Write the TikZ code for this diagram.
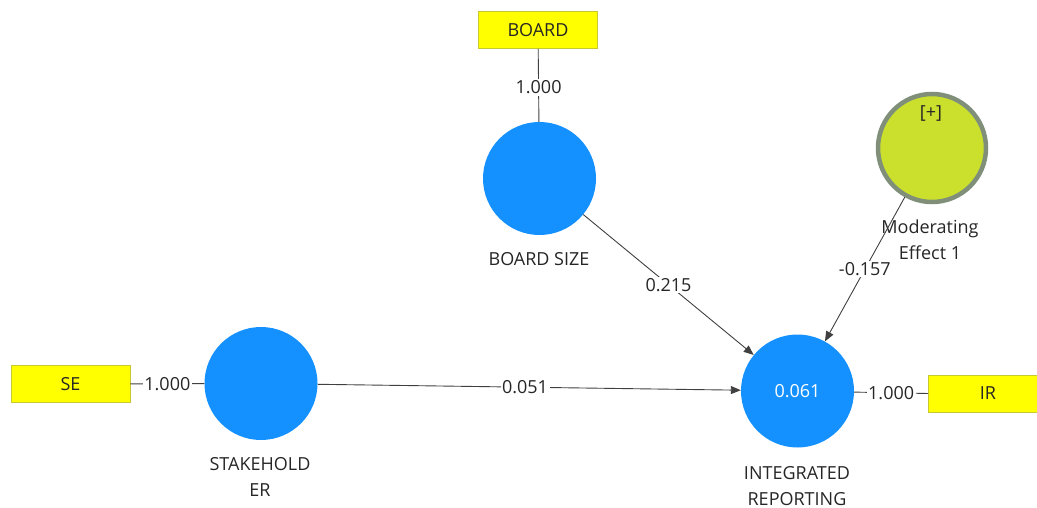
\documentclass[tikz,border=0pt]{standalone}
\usepackage{fontspec}
\setmainfont{Open Sans}
\usetikzlibrary{arrows.meta}
\definecolor{latent}{HTML}{1591FF}
\definecolor{indbox}{HTML}{FFFF00}
\definecolor{indline}{HTML}{C8C832}
\definecolor{modfill}{HTML}{CBE02C}
\definecolor{modring}{HTML}{7F8F7A}
\definecolor{edgecol}{HTML}{404040}
\definecolor{txt}{HTML}{262626}
\tikzset{
  every node/.style={font=\fontsize{18}{26}\selectfont, text=txt},
  latentvar/.style={circle, fill=latent, draw=none, minimum size=113pt, inner sep=0pt},
  modvar/.style={circle, fill=modfill, draw=modring, line width=4.5pt, minimum size=108pt, inner sep=0pt},
  indicator/.style={rectangle, fill=indbox, draw=indline, line width=0.8pt, minimum width=119pt, minimum height=37pt, inner sep=0pt},
  caption/.style={align=center, inner sep=0pt},
  loading/.style={draw=edgecol, line width=0.9pt},
  structpath/.style={draw=edgecol, line width=0.9pt, -{Triangle[length=10pt,width=8pt]}},
  coef/.style={fill=white, inner sep=1.5pt}
}
\begin{document}
\begin{tikzpicture}[x=1pt,y=-1pt]
\useasboundingbox (0,0) rectangle (1037,508);
\begin{scope}
\clip (0,0) rectangle (1037,508);
% indicators
\node[indicator] (board) at (538,30) {BOARD};
\node[indicator] (se) at (70.5,384) {SE};
\node[indicator] (ir) at (988,393.5) {IR};
% constructs
\node[latentvar] (bs) at (539.5,178.5) {};
\node[latentvar] (sh) at (261,383.5) {};
\node[latentvar] (ip) at (797.5,391) {\textcolor{white}{0.061}};
\node[modvar] (me) at (932,148) {};
\node[caption] (plus) at (931,113) {[+]};
% construct names
\node[caption] (bsname) at (539,259) {BOARD SIZE};
\node[caption] (shname) at (260,476.5) {STAKEHOLD\\ER};
\node[caption] (ipname) at (797,486) {INTEGRATED\\REPORTING};
\node[caption] (mename) at (930,240) {Moderating\\Effect 1};
% outer loadings
\draw[loading] (board) -- (bs) node[coef, pos=0.53] {1.000};
\draw[loading] (se) -- (sh) node[coef, midway] {1.000};
\draw[loading] (ip) -- (ir.west) node[coef, midway] {1.000};
% structural paths
\draw[structpath] (sh) -- (ip) node[coef, pos=0.49] {0.051};
\draw[structpath] (bs) -- (ip) node[coef, pos=0.5] {0.215};
\draw[structpath] (me) -- (ip) node[coef, pos=0.5] {-0.157};
\end{scope}
\end{tikzpicture}
\end{document}
